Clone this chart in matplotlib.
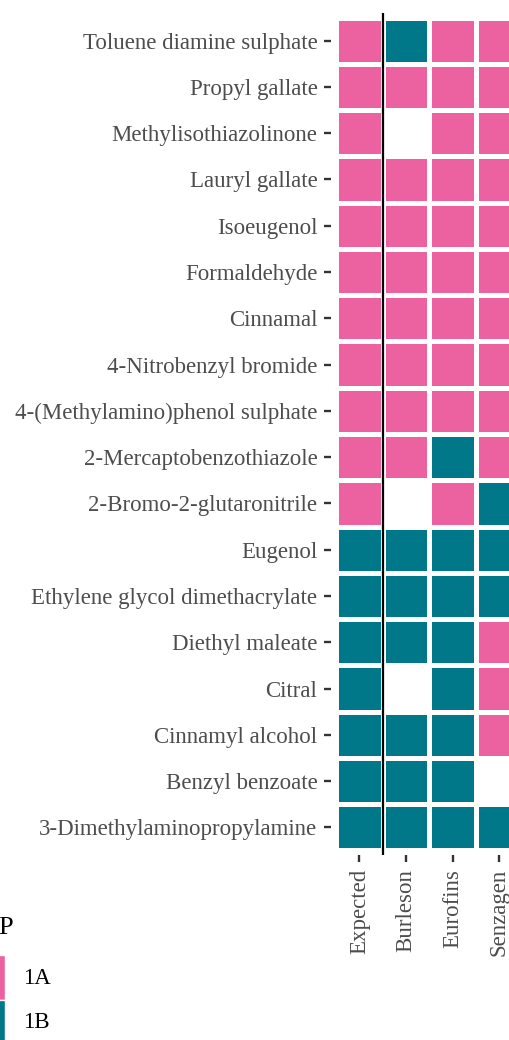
import matplotlib
matplotlib.use("Agg")
import matplotlib.pyplot as plt
from matplotlib.patches import Rectangle

plt.rcParams["font.family"] = ["Liberation Serif", "DejaVu Serif"]

# rows listed top to bottom
substances = [
    "Toluene diamine sulphate",
    "Propyl gallate",
    "Methylisothiazolinone",
    "Lauryl gallate",
    "Isoeugenol",
    "Formaldehyde",
    "Cinnamal",
    "4-Nitrobenzyl bromide",
    "4-(Methylamino)phenol sulphate",
    "2-Mercaptobenzothiazole",
    "2-Bromo-2-glutaronitrile",
    "Eugenol",
    "Ethylene glycol dimethacrylate",
    "Diethyl maleate",
    "Citral",
    "Cinnamyl alcohol",
    "Benzyl benzoate",
    "3-Dimethylaminopropylamine",
]
labs = ["Expected", "Burleson", "Eurofins", "Senzagen"]

expected = ["1A"] * 11 + ["1B"] * 7
burleson = ["1B", "1A", None, "1A", "1A", "1A", "1A", "1A", "1A", "1A", None,
            "1B", "1B", "1B", None, "1B", "1B", "1B"]
eurofins = ["1A", "1A", "1A", "1A", "1A", "1A", "1A", "1A", "1A", "1B", "1A",
            "1B", "1B", "1B", "1B", "1B", "1B", "1B"]
senzagen = ["1A", "1A", "1A", "1A", "1A", "1A", "1A", "1A", "1A", "1A", "1B",
            "1B", "1B", "1A", "1A", "1A", None, "1B"]

colors = {"1A": "#EC62A0", "1B": "#00788A"}
W, H = 510, 1040
fig = plt.figure(figsize=(W / 100, H / 100), dpi=100)

n = len(substances)
# panel in pixel coords (extends past the right edge like the original)
px0, px1 = 331.3, 527.3
py0, py1 = 12.9, 855.1
ax = fig.add_axes([px0 / W, 1 - py1 / H, (px1 - px0) / W, (py1 - py0) / H])

cols = [expected, burleson, eurofins, senzagen]
for j, col in enumerate(cols):
    for i, val in enumerate(col):
        if val is None:
            continue
        y = n - i  # top row highest
        ax.add_patch(Rectangle((j + 1 - 0.5, y - 0.5), 1, 1,
                               facecolor=colors[val], edgecolor="white",
                               linewidth=3.6))

ax.axvline(1.5, color="black", linewidth=1.6)
ax.set_xlim(0.4, len(labs) + 0.6)
ax.set_ylim(0.4, n + 0.6)
ax.set_xticks(range(1, len(labs) + 1))
ax.set_xticklabels(labs, rotation=90, va="top")
ax.set_yticks(range(1, n + 1))
ax.set_yticklabels(substances[::-1])
ax.tick_params(axis="both", colors="#333333", labelcolor="#4D4D4D",
               labelsize=16.5, length=4.8, width=1.7, pad=5.2)
for s in ax.spines.values():
    s.set_visible(False)
ax.set_facecolor("white")

# legend, drawn by hand at bottom-left (partly clipped like the source)
fig.text(-2 / W, 1 - 928 / H, "P", fontsize=19, va="center", ha="left",
         color="black")
for k, (lab, y0) in enumerate([("1A", 955), ("1B", 1000)]):
    fig.patches.append(Rectangle((-40 / W, 1 - (y0 + 45) / H), 45 / W, 45 / H,
                                 transform=fig.transFigure,
                                 facecolor=colors[lab], edgecolor="white",
                                 linewidth=1.0))
    fig.text(23 / W, 1 - (y0 + 23) / H, lab, fontsize=16.5, va="center",
             ha="left", color="black")

fig.savefig("out.png", dpi=100)
